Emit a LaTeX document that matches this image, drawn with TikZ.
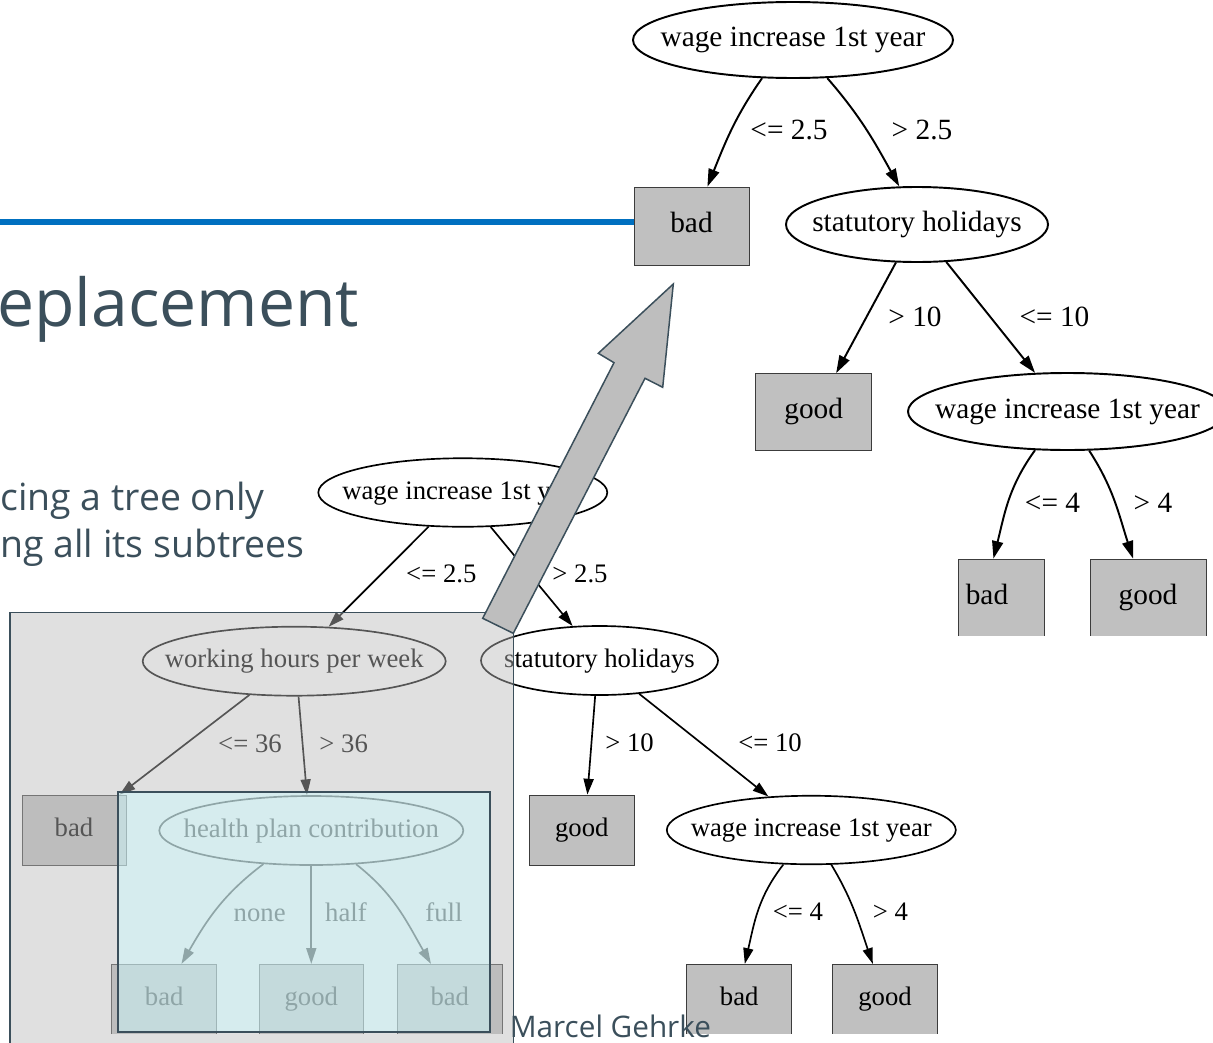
\documentclass[tikz,border=0pt]{standalone}
\usepackage{fontspec}
\setmainfont{Liberation Serif}
\newfontfamily\slidefont{Open Sans}
\usetikzlibrary{shapes.geometric,arrows.meta}
\definecolor{slate}{RGB}{59,79,91}
\definecolor{rulecol}{RGB}{0,112,192}
\definecolor{leafgray}{RGB}{192,192,192}
\definecolor{leafline}{RGB}{60,60,60}
\definecolor{veil}{RGB}{187,187,187}
\definecolor{mint}{RGB}{204,249,253}
\definecolor{bigarrow}{RGB}{190,190,190}
\begin{document}
\begin{tikzpicture}[scale=0.2,
  ufont/.style={font=\fontsize{16.7}{20}\selectfont, text height=0.82em, text depth=0.08em, inner sep=0pt},
  lfont/.style={font=\fontsize{15.2}{18}\selectfont, text height=0.82em, text depth=0.08em, inner sep=0pt},
  unode/.style={ellipse, draw, line width=1.1pt, inner sep=0pt},
  uleaf/.style={rectangle, draw=leafline, fill=leafgray, line width=0.45pt, ufont},
  uedge/.style={line width=1.1pt, -{Triangle[length=10pt,width=6.3pt]}},
  ulabel/.style={font=\fontsize{16.7}{20}\selectfont, anchor=base, inner sep=0pt},
  lnode/.style={ellipse, draw, line width=0.95pt, inner sep=0pt},
  lleaf/.style={rectangle, draw=leafline, fill=leafgray, line width=0.45pt, lfont},
  ledge/.style={line width=0.95pt, -{Triangle[length=9pt,width=5.7pt]}},
  llabel/.style={font=\fontsize{15.2}{18}\selectfont, anchor=base, inner sep=0pt},
  slide/.style={anchor=base west, inner sep=0pt, text=slate},
  veilbox/.style={draw=slate, line width=0.85pt, fill=veil, fill opacity=0.455},
  mintbox/.style={draw=slate, line width=1.3pt, fill=mint, fill opacity=0.49},
  arrowbox/.style={draw=slate, line width=0.85pt, fill=bigarrow, line join=miter}]
\useasboundingbox (0,0) rectangle (121.3,-104.2);
\clip (0,0) rectangle (121.3,-104.2);

\draw [rulecol, line width=3pt] (0,-22.2) -- (63.5,-22.2);
\node [slide, font=\slidefont\fontsize{37.6}{45}\selectfont] (title) at (-0.3,-32.67) {eplacement};
\node [slide, font=\slidefont\fontsize{21.3}{26}\selectfont] (line1) at (0,-51.0) {cing a tree only};
\node [slide, font=\slidefont\fontsize{21.3}{26}\selectfont] (line2) at (0,-55.7) {ng all its subtrees};

\begin{scope}
\clip (0,0) rectangle (121.3,-63.55);
\node [unode, minimum width=6.4cm, minimum height=1.52cm, label={[ufont]center:wage increase 1st year}] (u0) at (79.3,-4.0) {};
\node [uleaf, minimum width=2.3cm, minimum height=1.56cm] (u1) at (69.15,-22.6) {bad};
\node [unode, minimum width=5.24cm, minimum height=1.5cm, label={[ufont]center:statutory holidays}] (u2) at (91.7,-22.45) {};
\node [uleaf, minimum width=2.32cm, minimum height=1.54cm] (u3) at (81.37,-41.2) {good};
\node [unode, minimum width=6.38cm, minimum height=1.54cm, label={[ufont]center:wage increase 1st year}] (u4) at (106.75,-41.15) {};
\node [uleaf, minimum width=1.72cm, minimum height=1.54cm, label={[ufont, xshift=-0.28cm]center:bad}] (u5) at (100.1,-59.75) {};
\node [uleaf, minimum width=2.32cm, minimum height=1.54cm] (u6) at (114.8,-59.75) {good};
\draw [uedge] (u0.231) to[out=235,in=68] (u1.68) node [ulabel] (u01) at (78.9,-13.93) {<= 2.5};
\draw [uedge] (u0.312) to[out=311,in=119] (u2.115) node [ulabel] (u02) at (92.2,-13.93) {> 2.5};
\draw [uedge] (u2.241) -- (u3.60) node [ulabel] (u23) at (91.5,-32.6) {> 10};
\draw [uedge] (u2.308) -- (u4.130) node [ulabel] (u24) at (105.45,-32.6) {<= 10};
\draw [uedge] (u4.230) to[out=234,in=76] (u5.101) node [ulabel] (u45) at (105.25,-51.23) {<= 4};
\draw [uedge] (u4.299) to[out=303,in=108] (u6.111) node [ulabel] (u46) at (115.3,-51.23) {> 4};
\end{scope}

\begin{scope}
\clip (0,-40) rectangle (121.3,-103.3);
\node [lnode, minimum width=5.78cm, minimum height=1.37cm, label={[lfont]center:wage increase 1st year}] (l0) at (46.28,-49.25) {};
\node [lnode, minimum width=6.06cm, minimum height=1.38cm, label={[lfont]center:working hours per week}] (l1) at (29.42,-66.12) {};
\node [lnode, minimum width=4.74cm, minimum height=1.38cm, label={[lfont]center:statutory holidays}] (l2) at (59.95,-66.05) {};
\node [lleaf, minimum width=2.08cm, minimum height=1.41cm] (l3) at (7.4,-83.03) {bad};
\node [lnode, minimum width=6.08cm, minimum height=1.38cm, label={[lfont]center:health plan contribution}] (l4) at (31.13,-83.05) {};
\node [lleaf, minimum width=2.1cm, minimum height=1.4cm] (l5) at (16.42,-99.93) {bad};
\node [lleaf, minimum width=2.08cm, minimum height=1.4cm] (l6) at (31.13,-99.93) {good};
\node [lleaf, minimum width=2.1cm, minimum height=1.4cm] (l7) at (44.98,-99.93) {bad};
\node [lleaf, minimum width=2.1cm, minimum height=1.4cm] (l8) at (58.18,-83.0) {good};
\node [lnode, minimum width=5.78cm, minimum height=1.37cm, label={[lfont]center:wage increase 1st year}] (l9) at (81.13,-83.0) {};
\node [lleaf, minimum width=2.1cm, minimum height=1.4cm] (l10) at (73.92,-99.93) {bad};
\node [lleaf, minimum width=2.1cm, minimum height=1.4cm] (l11) at (88.5,-99.93) {good};
\draw [ledge] (l0.225) -- (l1.45) node [llabel] (l01) at (44.13,-58.27) {<= 2.5};
\draw [ledge] (l0.309) -- (l2.128) node [llabel] (l02) at (58.0,-58.27) {> 2.5};
\draw [ledge] (l1.217) -- (l3.38) node [llabel] (l13) at (25.0,-75.25) {<= 36};
\draw [ledge] (l1.277) -- (l4.97) node [llabel] (l14) at (34.37,-75.25) {> 36};
\draw [ledge] (l4.215) to[out=217,in=60] (l5.64) node [llabel] (l45) at (25.97,-92.15) {none};
\draw [ledge] (l4.south) -- (l6.north) node [llabel] (l46) at (34.6,-92.15) {half};
\draw [ledge] (l4.323) to[out=322,in=120] (l7.118) node [llabel] (l47) at (44.4,-92.15) {full};
\draw [ledge] (l2.263) -- (l8.81) node [llabel] (l28) at (62.95,-75.17) {> 10};
\draw [ledge] (l2.320) -- (l9.142) node [llabel] (l29) at (77.0,-75.17) {<= 10};
\draw [ledge] (l9.231) to[out=232,in=77] (l10.81) node [llabel] (l910) at (79.8,-92.07) {<= 4};
\draw [ledge] (l9.300) to[out=301,in=109] (l11.109) node [llabel] (l911) at (89.05,-92.07) {> 4};
\end{scope}

\draw [veilbox] (1.0,-61.23) rectangle (51.35,-106);
\draw [mintbox] (11.77,-79.17) rectangle (49.0,-103.17);
\draw [arrowbox] (67.33,-28.4) -- (66.27,-38.73) -- (64.5,-37.83) -- (51.33,-63.33) -- (48.27,-61.83) -- (61.4,-36.27) -- (59.83,-35.33) -- cycle;
\node [slide, font=\slidefont\fontsize{16.9}{20}\selectfont] (author) at (50.95,-103.75) {Marcel Gehrke};
\end{tikzpicture}
\end{document}
